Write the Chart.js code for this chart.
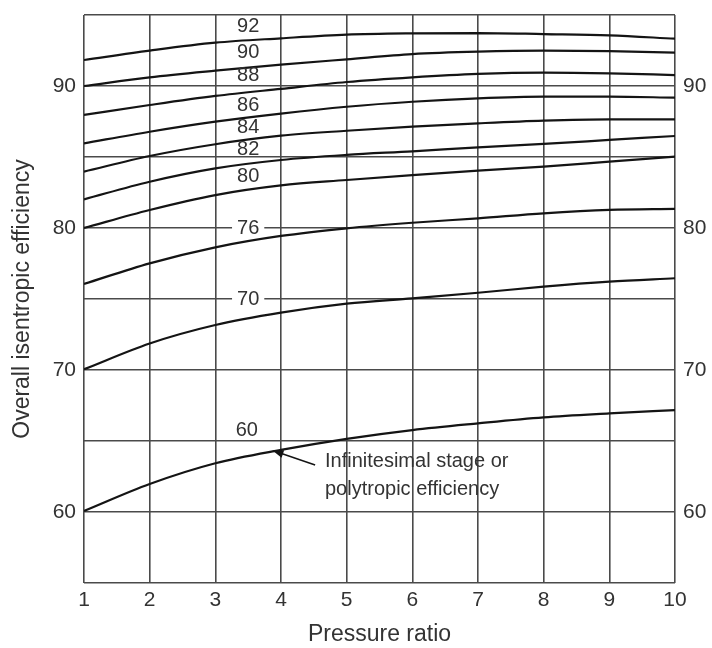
<!DOCTYPE html>
<html lang="en">
<head>
  <meta charset="UTF-8">
  <title>Overall isentropic efficiency vs pressure ratio</title>
  <style>
    html, body { margin: 0; padding: 0; background: #fff; }
    #wrap { width: 712px; height: 648px; }
  </style>
  <script src="https://cdn.jsdelivr.net/npm/chart.js"></script>
</head>
<body>
<div id="wrap"><canvas id="grafico" width="712" height="648"></canvas></div>
<script>
  // pressure ratio (x) and overall isentropic efficiency, one array per polytropic efficiency
  const pressureRatio = [1, 2, 3, 4, 5, 6, 7, 8, 9, 10];
  const polytropic = [92, 90, 88, 86, 84, 82, 80, 76, 70, 60];
  const eta92 = [91.83, 92.49, 93.05, 93.36, 93.62, 93.71, 93.73, 93.66, 93.57, 93.33];
  const eta90 = [90.0, 90.61, 91.08, 91.5, 91.88, 92.25, 92.42, 92.49, 92.46, 92.35];
  const eta88 = [87.96, 88.66, 89.3, 89.8, 90.28, 90.61, 90.85, 90.94, 90.89, 90.77];
  const eta86 = [85.96, 86.78, 87.49, 88.06, 88.54, 88.89, 89.13, 89.25, 89.25, 89.18];
  const eta84 = [83.97, 85.07, 85.9, 86.5, 86.85, 87.14, 87.37, 87.56, 87.65, 87.65];
  const eta82 = [82.02, 83.26, 84.2, 84.79, 85.15, 85.4, 85.68, 85.92, 86.2, 86.48];
  const eta80 = [80.0, 81.27, 82.32, 83.0, 83.38, 83.73, 84.04, 84.32, 84.67, 85.02];
  const eta76 = [76.06, 77.51, 78.64, 79.44, 79.98, 80.37, 80.68, 81.03, 81.27, 81.34];
  const eta70 = [70.05, 71.87, 73.17, 74.04, 74.67, 75.05, 75.44, 75.87, 76.22, 76.46];
  const eta60 = [60.07, 61.97, 63.43, 64.37, 65.15, 65.77, 66.24, 66.66, 66.94, 67.18];
  const yTickLabels = [60, 70, 80, 90];

  const series = [eta92, eta90, eta88, eta86, eta84, eta82, eta80, eta76, eta70, eta60];

  // curve labels, in data units (pressure ratio, efficiency)
  const curveLabels = [
    { text: '92', x: 3.5, y: 94.18 },
    { text: '90', x: 3.5, y: 92.37 },
    { text: '88', x: 3.5, y: 90.77 },
    { text: '86', x: 3.5, y: 88.66 },
    { text: '84', x: 3.5, y: 87.09 },
    { text: '82', x: 3.5, y: 85.54 },
    { text: '80', x: 3.5, y: 83.66 },
    { text: '76', x: 3.5, y: 80.0, bg: true },
    { text: '70', x: 3.5, y: 75.0, bg: true },
    { text: '60', x: 3.48, y: 65.77 }
  ];
  const note = {
    lines: ['Infinitesimal stage or', 'polytropic efficiency'],
    x: 4.67, y: 63.59,
    tip: { x: 3.87, y: 64.33 },
    tail: { x: 4.52, y: 63.31 }
  };

  const ink = '#141414';
  const gridCol = '#4a4a4a';
  const textCol = '#333';

  const labelPlugin = {
    id: 'curveLabels',
    afterDatasetsDraw(chart) {
      const ctx = chart.ctx;
      const xs = chart.scales.x, ys = chart.scales.y;
      ctx.save();
      ctx.font = '20px "Liberation Sans", Arial, sans-serif';
      ctx.textAlign = 'center';
      ctx.textBaseline = 'middle';
      curveLabels.forEach(l => {
        const px = xs.getPixelForValue(l.x), py = ys.getPixelForValue(l.y);
        if (l.bg) {
          const w = ctx.measureText(l.text).width;
          ctx.fillStyle = '#fff';
          ctx.fillRect(px - w / 2 - 5, py - 4, w + 10, 8);
        }
        ctx.fillStyle = textCol;
        ctx.fillText(l.text, px, py);
      });

      // arrow to the 60 curve
      const tx = xs.getPixelForValue(note.tip.x), ty = ys.getPixelForValue(note.tip.y);
      const sx = xs.getPixelForValue(note.tail.x), sy = ys.getPixelForValue(note.tail.y);
      const ang = Math.atan2(ty - sy, tx - sx);
      ctx.strokeStyle = ink;
      ctx.lineWidth = 1.5;
      ctx.beginPath();
      ctx.moveTo(sx, sy);
      ctx.lineTo(tx - 8 * Math.cos(ang), ty - 8 * Math.sin(ang));
      ctx.stroke();
      ctx.fillStyle = ink;
      ctx.beginPath();
      ctx.moveTo(tx, ty);
      ctx.lineTo(tx - 11 * Math.cos(ang) + 4 * Math.sin(ang), ty - 11 * Math.sin(ang) - 4 * Math.cos(ang));
      ctx.lineTo(tx - 11 * Math.cos(ang) - 4 * Math.sin(ang), ty - 11 * Math.sin(ang) + 4 * Math.cos(ang));
      ctx.closePath();
      ctx.fill();

      ctx.font = '20px "Liberation Sans", Arial, sans-serif';
      ctx.textAlign = 'left';
      ctx.fillStyle = textCol;
      const nx = xs.getPixelForValue(note.x), ny = ys.getPixelForValue(note.y);
      note.lines.forEach((t, i) => ctx.fillText(t, nx, ny + i * 28));
      ctx.restore();
    }
  };

  const tickFont = { family: '"Liberation Sans", Arial, sans-serif', size: 21 };
  const titleFont = { family: '"Liberation Sans", Arial, sans-serif', size: 23 };
  const yTickCb = v => (yTickLabels.includes(v) ? String(v) : '');
  // fixed axis sizes, no extra label padding
  const fixV = w => s => { s.width = w; s.paddingTop = 0; s.paddingBottom = 0; };
  const fixH = h => s => { s.height = h; s.paddingLeft = 0; s.paddingRight = 0; };

  const ctx = document.getElementById('grafico').getContext('2d');
  new Chart(ctx, {
    type: 'line',
    data: {
      datasets: series.map((vals, i) => ({
        label: String(polytropic[i]),
        data: vals.map((v, j) => ({ x: pressureRatio[j], y: v })),
        borderColor: ink,
        borderWidth: 2.2,
        pointRadius: 0,
        fill: false,
        cubicInterpolationMode: 'monotone',
        yAxisID: 'y'
      }))
    },
    options: {
      responsive: false,
      animation: false,
      layout: { padding: { top: 15, left: 0, right: 0, bottom: 0 } },
      plugins: { legend: { display: false }, tooltip: { enabled: false } },
      scales: {
        x: {
          type: 'linear',
          min: 1, max: 10,
          border: { display: false },
          grid: { color: gridCol, lineWidth: 1.6, drawTicks: false },
          ticks: { stepSize: 1, color: textCol, font: tickFont, padding: 5 },
          title: { display: true, text: 'Pressure ratio', color: textCol, font: titleFont, padding: { top: 0, bottom: 0 } },
          afterFit: fixH(65)
        },
        y: {
          type: 'linear',
          position: 'left',
          min: 55, max: 95,
          border: { display: false },
          grid: { color: gridCol, lineWidth: 1.6, drawTicks: false },
          ticks: { stepSize: 5, color: textCol, font: tickFont, padding: 8, callback: yTickCb },
          title: { display: true, text: 'Overall isentropic efficiency', color: textCol, font: titleFont, padding: { top: 9, bottom: 0 } },
          afterFit: fixV(84)
        },
        y2: {
          type: 'linear',
          position: 'right',
          min: 55, max: 95,
          border: { display: false },
          grid: { display: false, drawTicks: false },
          ticks: { stepSize: 5, color: textCol, font: tickFont, padding: 8, callback: yTickCb },
          afterFit: fixV(37)
        }
      }
    },
    plugins: [labelPlugin]
  });
</script>
</body>
</html>
